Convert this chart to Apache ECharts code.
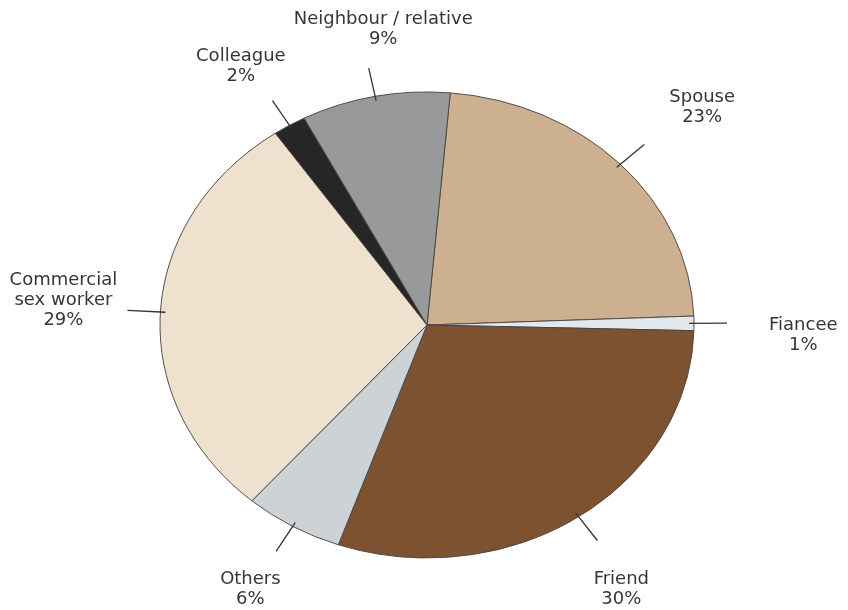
<!DOCTYPE html>
<html>
<head>
<meta charset="utf-8">
<script src="https://cdn.jsdelivr.net/npm/echarts@6/dist/echarts.min.js"></script>
<style>
  html, body { margin: 0; padding: 0; background: #ffffff; }
  #chart { width: 848px; height: 610px; }
</style>
</head>
<body>
<div id="chart"></div>
<script>
// Partner categories and their shares (%)
const categories = ['Spouse', 'Fiancee', 'Friend', 'Others', 'Commercial\nsex worker', 'Colleague', 'Neighbour / relative'];
const shares = [23, 1, 30, 6, 29, 2, 9];
const sliceColors = ['#cdb08f', '#e2e8ec', '#7c5230', '#cdd2d6', '#eee2cf', '#262626', '#97999b'];
// small hand adjustments of each label around its computed spot (px)
const labelNudge = [[16, -9], [18, 12], [-8, 16], [3, 3], [0, -8], [0, 0], [29, 1]];

const CX = 427, CY = 325;       // pie centre
const RX = 267, RY = 233;       // ellipse radii
const K = RY / RX;              // vertical squeeze
const START = 85;               // start angle (deg, counter-clockwise from 3 o'clock)

const total = shares.reduce((a, b) => a + b, 0);
// share accumulated before each slice
const before = shares.map((_, i) => shares.slice(0, i).reduce((a, b) => a + b, 0));

const pieData = categories.map((name, i) => ({ name: name, value: shares[i] }));

// elliptical slice: a sector of the pie squeezed vertically about the centre
function renderSlice(params, api) {
  const i = params.dataIndex;
  const v = api.value(1);
  const a0 = (-START + before[i] / total * 360) * Math.PI / 180;
  const a1 = a0 + v / total * 2 * Math.PI;
  return {
    type: 'sector',
    shape: { cx: CX, cy: CY, r0: 0, r: RX, startAngle: a0, endAngle: a1, clockwise: true },
    originX: CX,
    originY: CY,
    scaleY: K,
    style: { fill: sliceColors[i], stroke: '#4a4543', lineWidth: 1 }
  };
}

const chart = echarts.init(document.getElementById('chart'));
chart.setOption({
  animation: false,
  series: [
    {
      type: 'custom',
      coordinateSystem: 'none',
      silent: true,
      renderItem: renderSlice,
      data: categories.map((name, i) => [name, shares[i]])
    },
    {
      // invisible copy of the slices that carries the labels and their lines
      type: 'pie',
      center: [CX, CY],
      radius: RX - 5,
      startAngle: START,
      clockwise: true,
      silent: true,
      avoidLabelOverlap: false,
      itemStyle: { color: 'rgba(0,0,0,0)', borderWidth: 0 },
      label: {
        show: true,
        position: 'outside',
        formatter: '{b}\n{c}%',
        fontFamily: 'DejaVu Sans',
        fontSize: 18,
        lineHeight: 20,
        color: '#363636'
      },
      labelLine: {
        show: true,
        length: 38,
        length2: 0,
        smooth: false,
        lineStyle: { color: '#333333', width: 1.3 }
      },
      labelLayout: function (p) {
        const pts = p.labelLinePoints;
        if (!pts || pts.length < 2) return {};
        const squeeze = q => [q[0], CY + (q[1] - CY) * K];
        const ux = pts[0][0] - CX, uy = pts[0][1] - CY;
        const len = Math.sqrt(ux * ux + uy * uy) || 1;
        const dx = ux / len, dy = uy / len;
        const w = p.labelRect.width;
        const n = labelNudge[p.dataIndex] || [0, 0];
        return {
          x: CX + dx * (348 + 0.3 * w / 2) + n[0],
          y: CY + dy * 302 + n[1],
          align: 'center',
          verticalAlign: 'middle',
          labelLinePoints: [squeeze(pts[0]), squeeze(pts[1])]
        };
      },
      data: pieData
    }
  ]
});
</script>
</body>
</html>
